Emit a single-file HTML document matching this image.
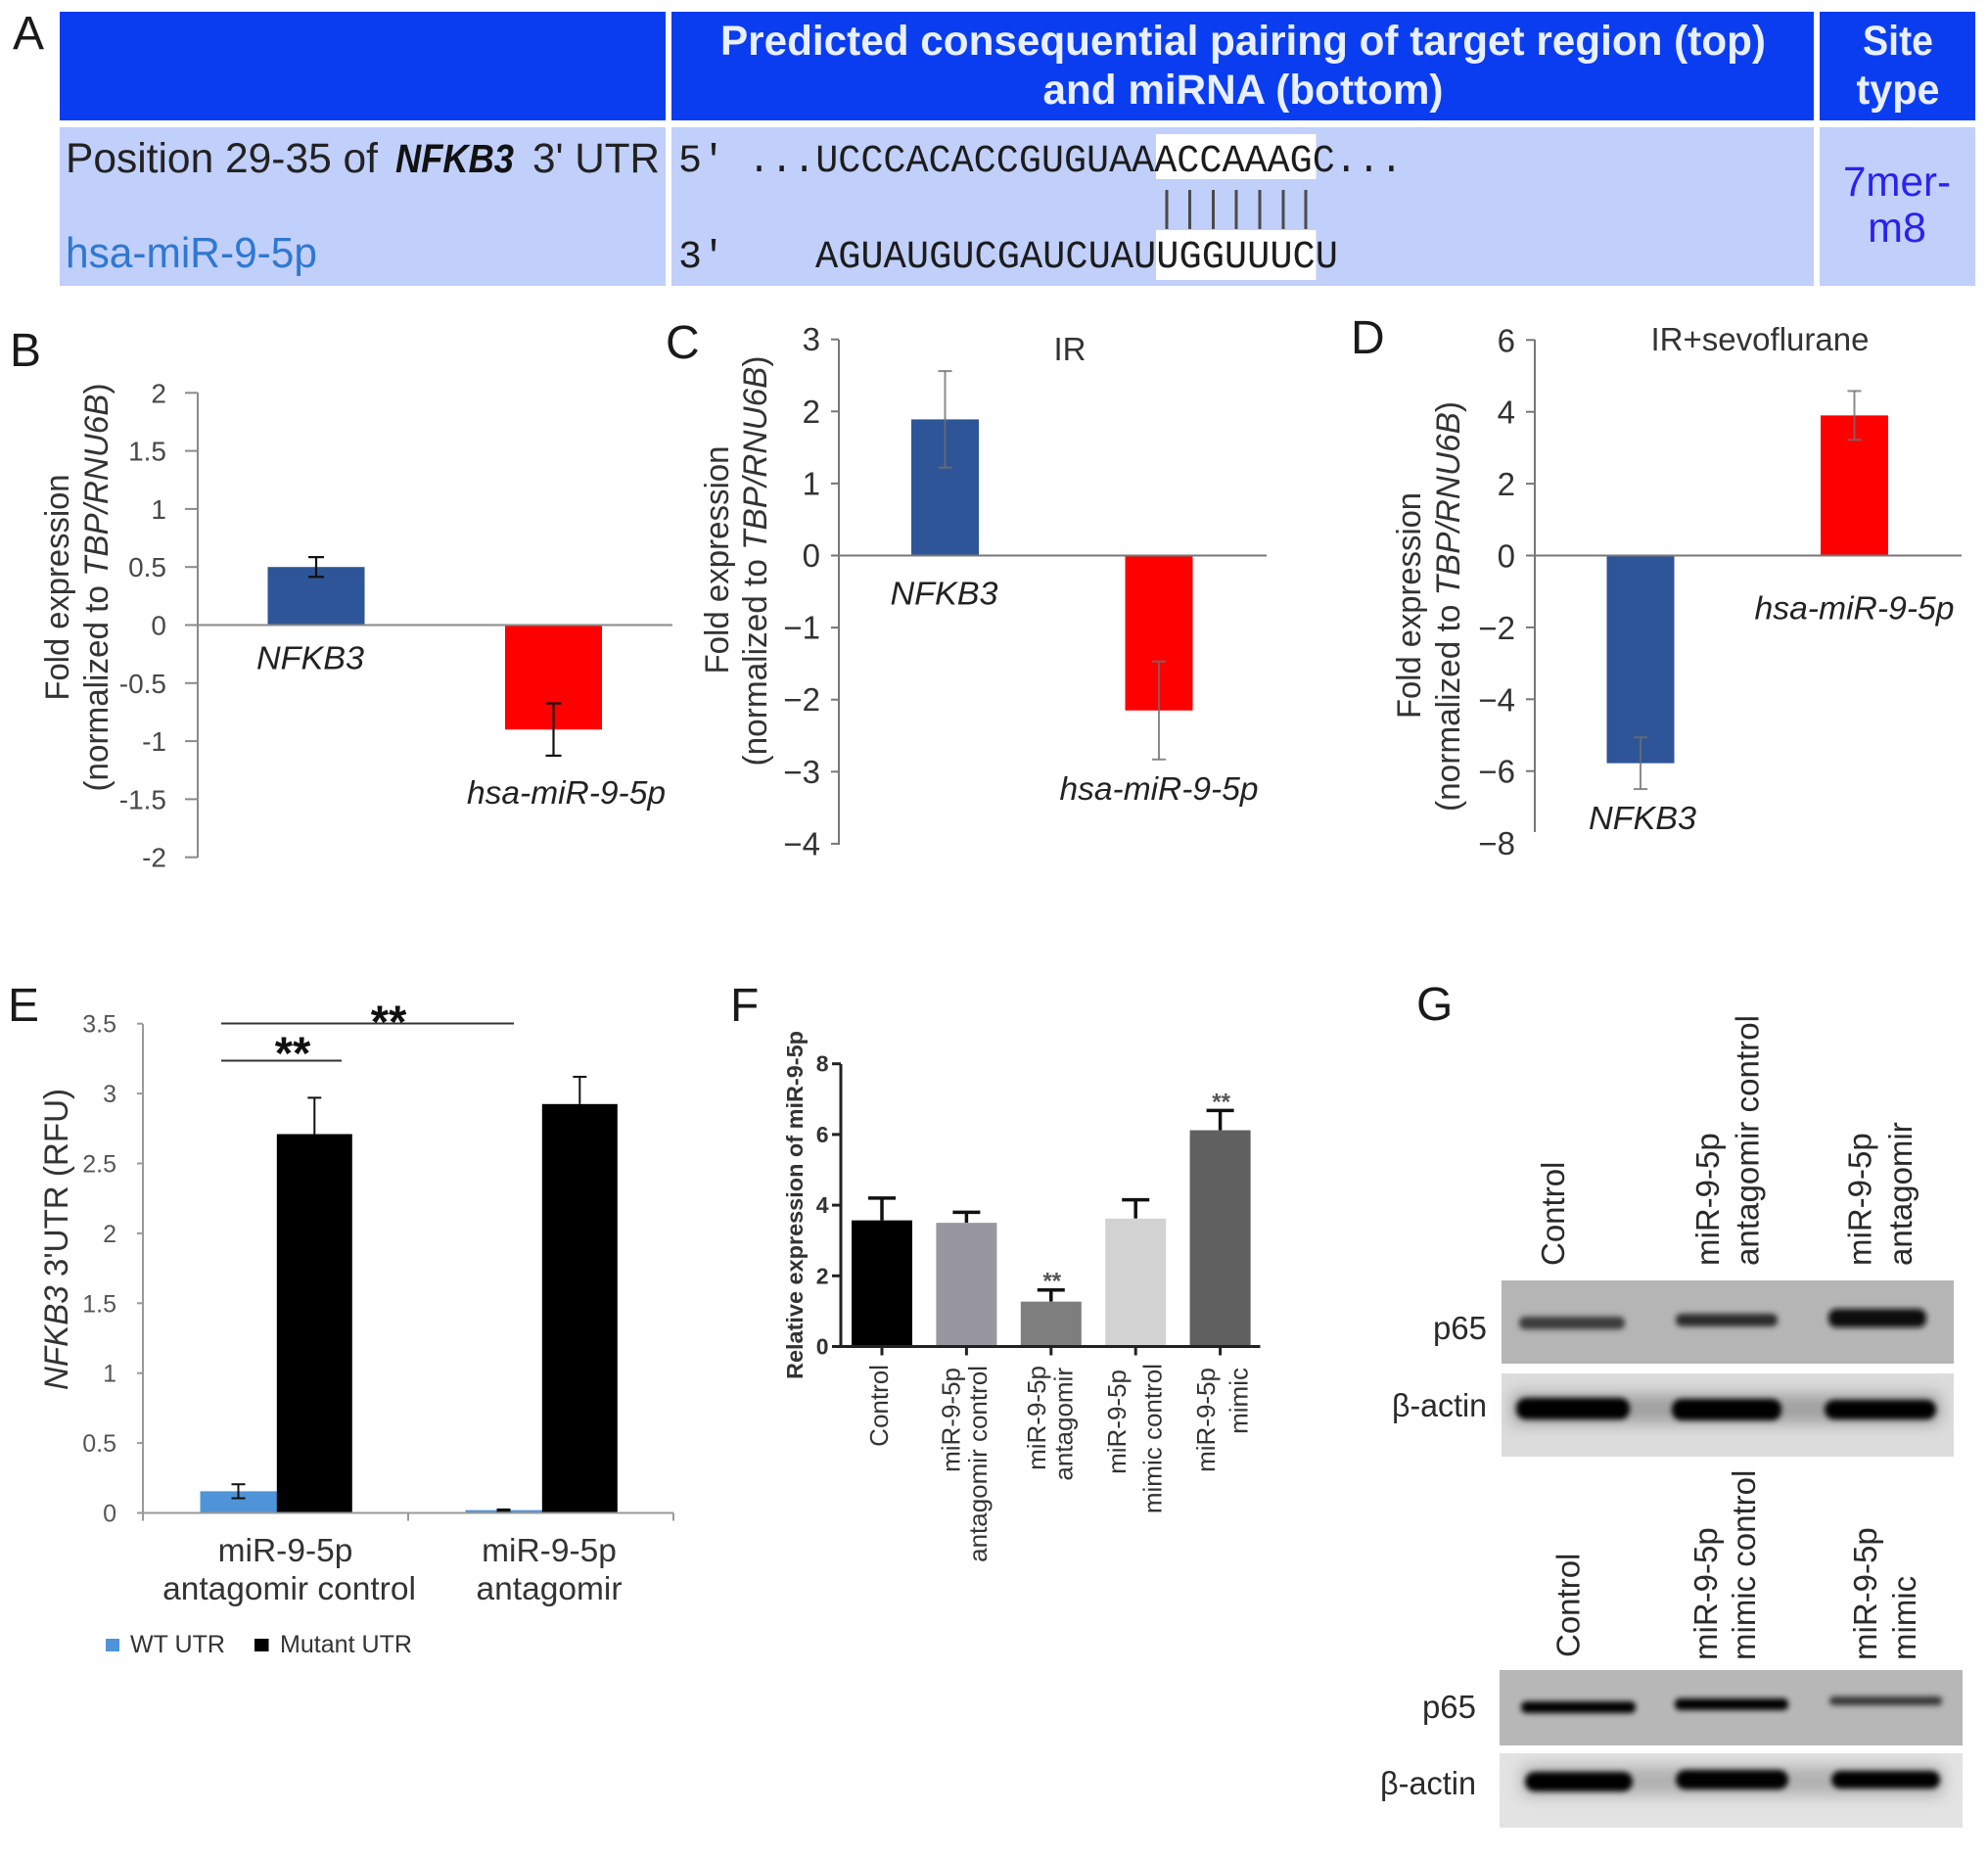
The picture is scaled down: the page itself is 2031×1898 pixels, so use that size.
<!DOCTYPE html>
<html lang="en">
<head>
<meta charset="utf-8">
<title>miR-9-5p and NFKB3 figure</title>
<style>
html,body{margin:0;padding:0;background:#fff;}
svg{display:block;font-family:"Liberation Sans",sans-serif;}
.letter{font-size:48px;fill:#1a1a1a;}
.ttl{fill:#333;}
.gl{font-size:33px;fill:#2a2a2a;}
</style>
</head>
<body>
<svg id="figure" xmlns="http://www.w3.org/2000/svg" width="2031" height="1898" viewBox="0 0 2031 1898">
<defs>
<filter id="b1" x="-20%" y="-150%" width="140%" height="400%"><feGaussianBlur stdDeviation="3"/></filter>
<filter id="b2" x="-20%" y="-200%" width="140%" height="500%"><feGaussianBlur stdDeviation="8"/></filter>
</defs>

<!-- Panel letters -->
<g>
<text class="letter" x="13" y="50">A</text>
<text class="letter" x="10" y="374">B</text>
<text class="letter" x="680" y="366">C</text>
<text class="letter" x="1380" y="361">D</text>
<text class="letter" x="8" y="1043">E</text>
<text class="letter" x="746" y="1043">F</text>
<text class="letter" x="1447" y="1042">G</text>
</g>

<!-- Panel A table -->
<g>
<rect x="61" y="12" width="619" height="111" fill="#0b3df0"/>
<rect x="686" y="12" width="1167" height="111" fill="#0b3df0"/>
<rect x="1859" y="12" width="159" height="111" fill="#0b3df0"/>
<rect x="61" y="130" width="619" height="162" fill="#c1cffb"/>
<rect x="686" y="130" width="1167" height="162" fill="#c1cffb"/>
<rect x="1859" y="130" width="159" height="162" fill="#c1cffb"/>
<text x="1270" y="56" text-anchor="middle" font-size="43" font-weight="700" fill="#e8efff" textLength="1068" lengthAdjust="spacingAndGlyphs">Predicted consequential pairing of target region (top)</text>
<text x="1270" y="106" text-anchor="middle" font-size="43" font-weight="700" fill="#e8efff" textLength="409" lengthAdjust="spacingAndGlyphs">and miRNA (bottom)</text>
<text x="1939" y="56" text-anchor="middle" font-size="43" font-weight="700" fill="#e8efff" textLength="72" lengthAdjust="spacingAndGlyphs">Site</text>
<text x="1939" y="106" text-anchor="middle" font-size="43" font-weight="700" fill="#e8efff" textLength="85" lengthAdjust="spacingAndGlyphs">type</text>
<text x="67" y="176" font-size="43" fill="#222" textLength="319" lengthAdjust="spacingAndGlyphs">Position 29-35 of</text>
<text x="404" y="176" font-size="41" font-weight="700" font-style="italic" fill="#111" textLength="121" lengthAdjust="spacingAndGlyphs">NFKB3</text>
<text x="544" y="176" font-size="43" fill="#222" textLength="130" lengthAdjust="spacingAndGlyphs">3' UTR</text>
<text x="67" y="273" font-size="44" fill="#2f78d0" textLength="257" lengthAdjust="spacingAndGlyphs">hsa-miR-9-5p</text>
<rect x="1181" y="137" width="163.500" height="46" fill="#fff"/>
<rect x="1181" y="235" width="163.500" height="51" fill="#fff"/>
<g font-family="'Liberation Mono',monospace" font-size="40" fill="#1c1c1c">
<text x="693" y="175">5'</text>
<text x="764" y="175" textLength="669" lengthAdjust="spacingAndGlyphs">...UCCCACACCGUGUAAACCAAAGC...</text>
<text x="693" y="273">3'</text>
<text x="833" y="273" textLength="534" lengthAdjust="spacingAndGlyphs">AGUAUGUCGAUCUAUUGGUUUCU</text>
</g>
<g stroke="#4a4a4a" stroke-width="3">
<line x1="1192" x2="1192" y1="194" y2="234"/><line x1="1215.500" x2="1215.500" y1="194" y2="234"/><line x1="1239.500" x2="1239.500" y1="194" y2="234"/><line x1="1263" x2="1263" y1="194" y2="234"/><line x1="1287" x2="1287" y1="194" y2="234"/><line x1="1311" x2="1311" y1="194" y2="234"/><line x1="1334" x2="1334" y1="194" y2="234"/>
</g>
<text x="1938" y="200" text-anchor="middle" font-size="43" fill="#2a22ee" textLength="110" lengthAdjust="spacingAndGlyphs">7mer-</text>
<text x="1938" y="247" text-anchor="middle" font-size="43" fill="#2a22ee">m8</text>
</g>

<!-- Y titles -->
<g class="ttl" font-size="34">
<g>
<text transform="translate(70,600) rotate(-90)" text-anchor="middle" textLength="231" lengthAdjust="spacingAndGlyphs">Fold expression</text>
<text transform="translate(110,600) rotate(-90)" text-anchor="middle" textLength="417" lengthAdjust="spacingAndGlyphs">(normalized to  <tspan font-style="italic">TBP/RNU6B</tspan>)</text>
</g>
<g>
<text transform="translate(744,572) rotate(-90)" text-anchor="middle" textLength="233" lengthAdjust="spacingAndGlyphs">Fold expression</text>
<text transform="translate(783,573) rotate(-90)" text-anchor="middle" textLength="419" lengthAdjust="spacingAndGlyphs">(normalized to  <tspan font-style="italic">TBP/RNU6B</tspan>)</text>
</g>
<g>
<text transform="translate(1451,618.500) rotate(-90)" text-anchor="middle" textLength="231" lengthAdjust="spacingAndGlyphs">Fold expression</text>
<text transform="translate(1491,619.500) rotate(-90)" text-anchor="middle" textLength="419" lengthAdjust="spacingAndGlyphs">(normalized to  <tspan font-style="italic">TBP/RNU6B</tspan>)</text>
</g>
<text transform="translate(69,1266) rotate(-90)" text-anchor="middle" textLength="308" lengthAdjust="spacingAndGlyphs"><tspan font-style="italic">NFKB3</tspan> 3'UTR (RFU)</text>
</g>
<text x="1093" y="368" text-anchor="middle" font-size="33" fill="#333">IR</text>
<text x="1798" y="358" text-anchor="middle" font-size="33" fill="#333" textLength="223" lengthAdjust="spacingAndGlyphs">IR+sevoflurane</text>

<!-- Panel E annotations -->
<g>
<line x1="226" x2="525" y1="1045.500" y2="1045.500" stroke="#333" stroke-width="2"/>
<line x1="226" x2="349" y1="1083.500" y2="1083.500" stroke="#333" stroke-width="2"/>
<text x="397" y="1060" text-anchor="middle" font-size="47" font-weight="700" fill="#111">**</text>
<text x="299" y="1092" text-anchor="middle" font-size="47" font-weight="700" fill="#111">**</text>
</g>
<g>
<rect x="108" y="1674" width="14" height="13" fill="#4f94d8"/>
<text x="133" y="1688" font-size="25" fill="#333" textLength="97" lengthAdjust="spacingAndGlyphs">WT UTR</text>
<rect x="260" y="1674" width="14.500" height="13" fill="#000"/>
<text x="286" y="1688" font-size="25" fill="#333" textLength="135" lengthAdjust="spacingAndGlyphs">Mutant UTR</text>
</g>

<!-- Panel F title -->
<text transform="translate(820,1231) rotate(-90)" text-anchor="middle" font-size="23" font-weight="700" fill="#333" textLength="356" lengthAdjust="spacingAndGlyphs">Relative expression of miR-9-5p</text>

<!-- Panel G blots -->
<g>
<g class="gl">
<text transform="translate(1598,1293) rotate(-90)">Control</text>
<text transform="translate(1756,1293) rotate(-90)">miR-9-5p</text>
<text transform="translate(1796.500,1293) rotate(-90)" textLength="256" lengthAdjust="spacingAndGlyphs">antagomir control</text>
<text transform="translate(1911.600,1293) rotate(-90)">miR-9-5p</text>
<text transform="translate(1953,1293) rotate(-90)">antagomir</text>
<text x="1519" y="1368" text-anchor="end">p65</text>
<text x="1519" y="1447" text-anchor="end" textLength="97" lengthAdjust="spacingAndGlyphs">β-actin</text>
</g>
<rect x="1534" y="1308" width="462" height="85" fill="#b5b5b5"/>
<rect x="1552" y="1345" width="108" height="13" rx="6" fill="#3a3a3a" filter="url(#b1)"/>
<rect x="1712" y="1342" width="104" height="13" rx="6" fill="#2a2a2a" filter="url(#b1)"/>
<rect x="1868" y="1337" width="100" height="19" rx="8" fill="#0a0a0a" filter="url(#b1)"/>
<rect x="1534" y="1403" width="462" height="85" fill="#dcdcdc"/>
<rect x="1545" y="1424" width="437" height="30" fill="#a0a0a0" filter="url(#b2)"/>
<rect x="1549" y="1428" width="116" height="22" rx="10" fill="#000" filter="url(#b1)"/>
<rect x="1708" y="1429" width="112" height="22" rx="10" fill="#000" filter="url(#b1)"/>
<rect x="1864" y="1430" width="114" height="20" rx="10" fill="#000" filter="url(#b1)"/>
</g>
<g>
<g class="gl">
<text transform="translate(1613.400,1693) rotate(-90)">Control</text>
<text transform="translate(1753.800,1696) rotate(-90)">miR-9-5p</text>
<text transform="translate(1793,1696) rotate(-90)">mimic control</text>
<text transform="translate(1917,1696) rotate(-90)">miR-9-5p</text>
<text transform="translate(1957,1696) rotate(-90)">mimic</text>
<text x="1508" y="1755" text-anchor="end">p65</text>
<text x="1508" y="1833" text-anchor="end" textLength="98" lengthAdjust="spacingAndGlyphs">β-actin</text>
</g>
<rect x="1532" y="1706" width="473" height="77" fill="#b7b7b7"/>
<rect x="1554" y="1738" width="117" height="12" rx="5" fill="#060606" filter="url(#b1)"/>
<rect x="1711" y="1735" width="116" height="12" rx="5" fill="#060606" filter="url(#b1)"/>
<rect x="1869" y="1733" width="115" height="9" rx="4" fill="#353535" filter="url(#b1)"/>
<rect x="1532" y="1791" width="473" height="76" fill="#e3e3e3"/>
<rect x="1555" y="1804" width="430" height="30" fill="#b0b0b0" filter="url(#b2)"/>
<rect x="1558" y="1810" width="110" height="20" rx="10" fill="#000" filter="url(#b1)"/>
<rect x="1712" y="1808" width="115" height="20" rx="10" fill="#000" filter="url(#b1)"/>
<rect x="1871" y="1809" width="111" height="18" rx="9" fill="#000" filter="url(#b1)"/>
</g>

<g id="charts"></g>
</svg>

<script>
// Panel B
const bCategories = ['NFKB3', 'hsa-miR-9-5p'];
const bValues = [0.5, -0.9];
const bErrors = [0.085, 0.225];
const bTicks = ['2', '1.5', '1', '0.5', '0', '-0.5', '-1', '-1.5', '-2'];
// Panel C
const cCategories = ['NFKB3', 'hsa-miR-9-5p'];
const cValues = [1.89, -2.15];
const cErrors = [0.67, 0.68];
const cTicks = ['3', '2', '1', '0', '−1', '−2', '−3', '−4'];
// Panel D
const dCategories = ['NFKB3', 'hsa-miR-9-5p'];
const dValues = [-5.78, 3.9];
const dErrors = [0.72, 0.68];
const dTicks = ['6', '4', '2', '0', '−2', '−4', '−6', '−8'];
// Panel E
const eCategoriesLine1 = ['miR-9-5p', 'miR-9-5p'];
const eCategoriesLine2 = ['antagomir control', 'antagomir'];
const eWtValues = [0.155, 0.02];
const eWtErrors = [0.05, 0.005];
const eMutantValues = [2.71, 2.925];
const eMutantErrors = [0.26, 0.195];
const eTicks = ['3.5', '3', '2.5', '2', '1.5', '1', '0.5', '0'];
// Panel F
const fCategories = [['Control'], ['miR-9-5p', 'antagomir control'], ['miR-9-5p', 'antagomir'], ['miR-9-5p', 'mimic control'], ['miR-9-5p', 'mimic']];
const fValues = [3.57, 3.5, 1.27, 3.62, 6.12];
const fErrors = [0.63, 0.3, 0.33, 0.53, 0.56];
const fStars = ['', '', '**', '', '**'];
const fTicks = ['8', '6', '4', '2', '0'];

const SVGNS = 'http://www.w3.org/2000/svg';
const root = document.getElementById('charts');

function mk(tag, attrs, parent, text) {
  const el = document.createElementNS(SVGNS, tag);
  for (const k in attrs) el.setAttribute(k, attrs[k]);
  if (text !== undefined) el.textContent = text;
  (parent || root).appendChild(el);
  return el;
}
function tickValue(label) {
  return Number(label.replace('−', '-'));
}

function drawYAxis(g, prefix, ticks, yScale, o) {
  const axis = mk('line', {x1: o.axisX, x2: o.axisX, y1: o.axisTop, y2: o.axisBottom, stroke: o.axisColor, 'stroke-width': o.axisWidth}, g);
  
  
  ticks.forEach(function (t) {
    const v = tickValue(t);
    if (o.skipTick !== v) {
      const tick = mk('line', {x1: o.tickLeft, x2: o.axisX, y1: yScale(v), y2: yScale(v), stroke: o.axisColor, 'stroke-width': o.axisWidth}, g);
      
      
    }
    const label = mk('text', {x: o.labelRight, y: yScale(v) + o.labelShift, 'text-anchor': 'end', 'font-size': o.labelSize, 'font-weight': o.labelWeight || 400, fill: o.labelColor}, g, t);
    
    
  });
}

function drawErrorBar(g, prefix, cx, yA, yB, capA, capB, o) {
  const stem = mk('line', {x1: cx, x2: cx, y1: yA, y2: yB, stroke: o.errColor, 'stroke-width': o.errWidth}, g);
  
  
  if (capA) {
    const c1 = mk('line', {x1: cx - o.capHalf, x2: cx + o.capHalf, y1: yA, y2: yA, stroke: o.errColor, 'stroke-width': o.errWidth}, g);
    
    
  }
  if (capB) {
    const c2 = mk('line', {x1: cx - o.capHalf, x2: cx + o.capHalf, y1: yB, y2: yB, stroke: o.errColor, 'stroke-width': o.errWidth}, g);
    
    
  }
}

function drawDiverging(prefix, categories, values, errors, ticks, o) {
  const g = mk('g', {});
  
  
  const yScale = function (v) { return o.y0 - v * o.unit; };
  const xScale = function (i) { return o.x0 + i * o.step; };
  values.forEach(function (v, i) {
    const cx = xScale(i);
    const top = Math.min(yScale(v), yScale(0));
    const bar = mk('rect', {x: cx - o.barWidth / 2, y: top, width: o.barWidth, height: Math.abs(yScale(v) - yScale(0)), fill: o.colors[i]}, g);
    
    
  });
  drawYAxis(g, prefix, ticks, yScale, o);
  const xAxis = mk('line', {x1: o.tickLeft, x2: o.axisRight, y1: o.y0, y2: o.y0, stroke: o.axisColor, 'stroke-width': o.axisWidth}, g);
  
  
  values.forEach(function (v, i) {
    const cx = xScale(i);
    drawErrorBar(g, prefix, cx, yScale(v + errors[i]), yScale(v - errors[i]), true, true, o);
    const base = v >= 0 ? o.y0 : yScale(v - errors[i]);
    const label = mk('text', {x: cx + o.labelDx[i], y: base + o.labelGap[i], 'text-anchor': 'middle', 'font-size': 33, 'font-style': 'italic', fill: '#222', textLength: o.labelLen[i], lengthAdjust: 'spacingAndGlyphs'}, g, categories[i]);
    
    
  });
}

drawDiverging('panel-b', bCategories, bValues, bErrors, bTicks, {
  y0: 638.5, unit: 118.6, x0: 323, step: 242.5, barWidth: 99, colors: ['#2e5597', '#ff0000'],
  axisX: 202, axisTop: 401, axisBottom: 876, tickLeft: 189, axisRight: 687, axisColor: '#8a8a8a', axisWidth: 2,
  labelRight: 170, labelShift: 10, labelSize: 28, labelColor: '#484848',
  errColor: '#111', errWidth: 2.2, capHalf: 8,
  labelDx: [-6, 13], labelGap: [45, 49], labelLen: [110, 203]
});
drawDiverging('panel-c', cCategories, cValues, cErrors, cTicks, {
  y0: 567.5, unit: 73.6, x0: 965.5, step: 218.5, barWidth: 69, colors: ['#2e5597', '#ff0000'],
  axisX: 857, axisTop: 347, axisBottom: 863, tickLeft: 849, axisRight: 1294, axisColor: '#777', axisWidth: 2,
  labelRight: 838, labelShift: 11.5, labelSize: 33, labelColor: '#333',
  errColor: 'rgba(110,110,110,0.8)', errWidth: 2, capHalf: 7,
  labelDx: [-1, 0], labelGap: [50, 41], labelLen: [110, 203]
});
drawDiverging('panel-d', dCategories, dValues, dErrors, dTicks, {
  y0: 567.5, unit: 36.7, x0: 1676, step: 218.5, barWidth: 69, colors: ['#2e5597', '#ff0000'],
  axisX: 1568, axisTop: 347, axisBottom: 850, tickLeft: 1559, axisRight: 2004, axisColor: '#777', axisWidth: 2,
  labelRight: 1548, labelShift: 12, labelSize: 33, labelColor: '#333', skipTick: -8,
  errColor: 'rgba(110,110,110,0.8)', errWidth: 2, capHalf: 7,
  labelDx: [2, 0], labelGap: [41, 65], labelLen: [110, 204]
});

function drawPanelE() {
  const prefix = 'panel-e';
  const g = mk('g', {});
  
  
  const axisX = 146, groupStep = 271, barWidth = 77, y0 = 1545.5, unit = 142.8;
  const yScale = function (v) { return y0 - v * unit; };
  const groupX = function (i) { return axisX + groupStep * (i + 0.5); };
  const opts = {errColor: '#111', errWidth: 2, capHalf: 7, axisX: axisX, axisTop: 1046, axisBottom: y0, tickLeft: 140, axisColor: '#999', axisWidth: 2, labelRight: 119, labelShift: 9, labelSize: 25, labelColor: '#555'};
  drawYAxis(g, prefix, eTicks, yScale, opts);
  eWtValues.forEach(function (v, i) {
    const cx = groupX(i) - barWidth / 2 + 0.5;
    const bar = mk('rect', {x: cx - barWidth / 2 - 0.5, y: yScale(v), width: barWidth + 1.5, height: yScale(0) - yScale(v), fill: '#4f94d8'}, g);
    
    
    drawErrorBar(g, prefix, cx, yScale(v + eWtErrors[i]), yScale(v - eWtErrors[i]), true, true, opts);
  });
  eMutantValues.forEach(function (v, i) {
    const cx = groupX(i) + barWidth / 2 + 1.3;
    const bar = mk('rect', {x: cx - barWidth / 2, y: yScale(v), width: barWidth, height: yScale(0) - yScale(v), fill: '#000'}, g);
    
    
    drawErrorBar(g, prefix, cx, yScale(v + eMutantErrors[i]), yScale(v), true, false, opts);
  });
  const xAxis = mk('line', {x1: axisX, x2: axisX + 2 * groupStep, y1: y0, y2: y0, stroke: '#999', 'stroke-width': 2}, g);
  
  
  [0, 1, 2].forEach(function (i) {
    const t = mk('line', {x1: axisX + groupStep * i, x2: axisX + groupStep * i, y1: y0, y2: y0 + 8, stroke: '#999', 'stroke-width': 2}, g);
    
    
  });
  eCategoriesLine1.forEach(function (name, i) {
    const l1 = mk('text', {x: groupX(i) + (i === 0 ? 10 : 8.5), y: 1595, 'text-anchor': 'middle', 'font-size': 33.5, fill: '#333'}, g, name);
    
    
    const l2 = mk('text', {x: groupX(i) + (i === 0 ? 14 : 8.5), y: 1634, 'text-anchor': 'middle', 'font-size': 33.5, fill: '#333'}, g, eCategoriesLine2[i]);
    
    
  });
}
drawPanelE();

function drawPanelF() {
  const prefix = 'panel-f';
  const g = mk('g', {});
  
  
  const colors = ['#000', '#98979f', '#7e7e7e', '#d2d2d2', '#606060'];
  const x0 = 901, step = 86.4, barWidth = 62, y0 = 1375.5, unit = 36.1;
  const yScale = function (v) { return y0 - v * unit; };
  const xScale = function (i) { return x0 + i * step; };
  const labelDx = [[6], [-7, 20.5], [-6, 21.5], [-10, 26.5], [-5.5, 28]];
  const labelTop = [[1394], [1397, 1395], [1395, 1397], [1399, 1393], [1397, 1397]];
  const opts = {errColor: '#111', errWidth: 3.5, capHalf: 14, axisX: 859, axisTop: 1087, axisBottom: y0, tickLeft: 850, axisColor: '#222', axisWidth: 3, labelRight: 846.5, labelShift: 8, labelSize: 23, labelWeight: 700, labelColor: '#333'};
  fValues.forEach(function (v, i) {
    const cx = xScale(i);
    drawErrorBar(g, prefix, cx, yScale(v + fErrors[i]), yScale(v), true, false, opts);
    const bar = mk('rect', {x: cx - barWidth / 2, y: yScale(v), width: barWidth, height: yScale(0) - yScale(v), fill: colors[i]}, g);
    
    
    if (fStars[i]) {
      const star = mk('text', {x: cx + 1, y: yScale(v + fErrors[i]) - 1, 'text-anchor': 'middle', 'font-size': 24, 'font-weight': 700, fill: '#555'}, g, fStars[i]);
      
      
    }
    const tick = mk('line', {x1: cx, x2: cx, y1: y0, y2: y0 + 9, stroke: '#222', 'stroke-width': 3}, g);
    
    
    fCategories[i].forEach(function (line, j) {
      const label = mk('text', {transform: 'translate(' + (cx + labelDx[i][j]) + ',' + labelTop[i][j] + ') rotate(-90)', 'text-anchor': 'end', 'font-size': 26, fill: '#333'}, g, line);
      
      
    });
  });
  drawYAxis(g, prefix, fTicks, yScale, opts);
  const xAxis = mk('line', {x1: 850, x2: 1287.5, y1: y0, y2: y0, stroke: '#222', 'stroke-width': 3}, g);
  
  
}
drawPanelF();
</script>
</body>
</html>
